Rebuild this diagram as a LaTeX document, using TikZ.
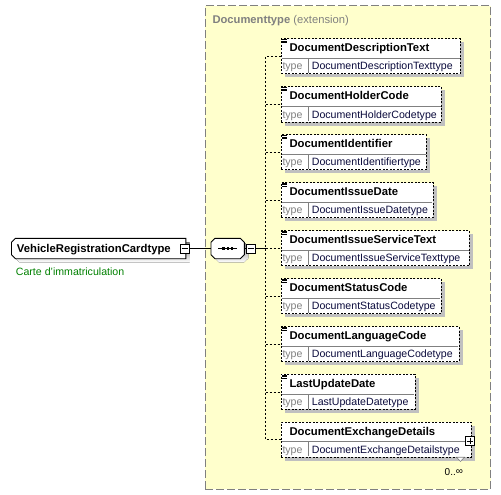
\documentclass[tikz,border=0pt]{standalone}
\usepackage{fontspec}
\setmainfont{Liberation Sans}
\definecolor{panel}{RGB}{255,255,204}
\definecolor{panelline}{RGB}{128,128,128}
\definecolor{shade}{RGB}{192,192,192}
\definecolor{typegray}{RGB}{128,128,128}
\definecolor{typeink}{RGB}{10,10,60}
\definecolor{annot}{RGB}{0,128,0}
\tikzset{
  x=1pt, y=-1pt,
  namefont/.style={font=\fontsize{11.3}{13}\selectfont\bfseries},
  typefont/.style={font=\fontsize{10.6}{12}\selectfont},
  lbl/.style={inner sep=0pt, anchor=base west},
  elbox/.style={draw, fill=white, line width=0.9pt, dash pattern=on 2pt off 1.5pt,
    minimum height=35pt, inner sep=0pt, anchor=north west},
  shadowbox/.style={fill=shade},
  rowline/.style={draw=gray, line width=0.8pt, solid},
  stub/.style={line width=0.9pt, dash pattern=on 2pt off 2pt},
  pmbox/.style={draw, fill=white, line width=0.8pt, solid, minimum width=9pt, minimum height=9pt, inner sep=0pt},
}
% #1 id, #2 top, #3 right, #4 name, #5 type, #6 icon (1/0)
\newcommand\xelem[6]{%
  \fill[shadowbox] (285,#2+4) rectangle (#3+4,#2+39);
  \node[elbox, minimum width={#3-281}] (#1) at (281,#2) {};
  \draw[rowline] (281.5,#2+20) -- (#3-0.5,#2+20);
  \draw[rowline] (308,#2+20) -- (308,#2+34.5);
  \node[lbl, namefont] (#1n) at (289.3,#2+13.3) {#4};
  \node[lbl, typefont, text=typegray] (#1k) at (282.3,#2+31.5) {type};
  \node[lbl, typefont, text=typeink] (#1t) at (311.7,#2+31.5) {#5};
  \ifnum#6=1
    \draw[line width=0.7pt] (282.3,#2+1) -- (287,#2+1) (282.3,#2+2.6) -- (287,#2+2.6) (282.3,#2+4.2) -- (287,#2+4.2);
  \fi
}
\begin{document}
\begin{tikzpicture}
\useasboundingbox (0,0) rectangle (501,495);
% extension panel
\node[draw=panelline, fill=panel, line width=1pt, dash pattern=on 8pt off 3pt,
  minimum width=285.5pt, minimum height=483pt, anchor=north west, inner sep=0pt] (panel) at (204.5,5.5) {};
\node[lbl, text=panelline, font=\fontsize{11.2}{13}\selectfont] (ptitle) at (212.3,23.3) {\textbf{Documenttype} (extension)};

% elements
\xelem{e1}{38.5}{460}{DocumentDescriptionText}{DocumentDescriptionTexttype}{1}
\xelem{e2}{86.5}{441}{DocumentHolderCode}{DocumentHolderCodetype}{1}
\xelem{e3}{134.4}{426}{DocumentIdentifier}{DocumentIdentifiertype}{1}
\xelem{e4}{182.2}{432.7}{DocumentIssueDate}{DocumentIssueDatetype}{1}
\xelem{e5}{230.1}{469}{DocumentIssueServiceText}{DocumentIssueServiceTexttype}{1}
\xelem{e6}{278.1}{440.7}{DocumentStatusCode}{DocumentStatusCodetype}{1}
\xelem{e7}{326.2}{458.5}{DocumentLanguageCode}{DocumentLanguageCodetype}{1}
\xelem{e8}{374}{414.5}{LastUpdateDate}{LastUpdateDatetype}{1}
\xelem{e9}{421.8}{471}{DocumentExchangeDetails}{DocumentExchangeDetailstype}{0}
% repetition notch and plus box of e9
\draw[draw=gray, fill=white, line width=0.6pt] (456.5,457.2) -- (464.5,457.2) -- (460.5,461.5) -- cycle;
\node[pmbox] (e9plus) at (470,441) {};
\draw[line width=0.8pt] (e9plus.west) ++(1.5,0) -- ++(6,0) (e9plus.north) ++(0,1.5) -- ++(0,6);
\node[lbl, typefont, font=\fontsize{10}{12}\selectfont] (e9occ) at (444.5,475) {0..\raisebox{0.3pt}{∞}};

% root element
\fill[shade] (19.5,242.3) -- (189.5,242.3) -- (189.5,262.3) -- (19.5,262.3) -- (15.5,258.3) -- (15.5,246.3) -- cycle;
\node[minimum width=174pt, minimum height=20pt, inner sep=0pt, anchor=north west] (root) at (11.5,238.3) {};
\draw[line width=0.9pt, fill=white] ([xshift=4pt]root.north west) -- (root.north east) -- (root.south east)
  -- ([xshift=4pt]root.south west) -- ([yshift=4pt]root.south west) -- ([yshift=-4pt]root.north west) -- cycle;
\node[lbl, namefont] (rootn) at (16.7,252.4) {VehicleRegistrationCardtype};
\node[pmbox] (rootminus) at (185,248.5) {};
\draw[line width=0.8pt] (rootminus.west) ++(1.5,0) -- ++(6,0);
\node[lbl, typefont, text=annot] (rootdoc) at (15.7,275.5) {Carte d'immatriculation};

% sequence compositor
\fill[shade] (219,242.3) -- (244,242.3) -- (248.3,246.3) -- (248.3,258.3) -- (244,262.3) -- (219,262.3) -- (215,258.3) -- (215,246.3) -- cycle;
\node[minimum width=33pt, minimum height=20pt, inner sep=0pt, anchor=north west] (seq) at (211,238.3) {};
\draw[line width=0.9pt, fill=white] ([xshift=4pt]seq.north west) -- ([xshift=-4pt]seq.north east) -- ([yshift=-4pt]seq.north east)
  -- ([yshift=4pt]seq.south east) -- ([xshift=-4pt]seq.south east) -- ([xshift=4pt]seq.south west)
  -- ([yshift=4pt]seq.south west) -- ([yshift=-4pt]seq.north west) -- cycle;
\draw[line width=0.7pt] ([xshift=7pt]seq.west) -- ([xshift=-7pt]seq.east);
\foreach \dx in {-4.2,0,4.2} \fill ([xshift=\dx pt]seq.center) ++(-1.2,-1.2) rectangle ++(2.4,2.4);
\node[pmbox] (seqminus) at (251,248.5) {};
\draw[line width=0.8pt] (seqminus.west) ++(1.5,0) -- ++(6,0);
\draw[line width=0.8pt] (rootminus.east) -- (seq.west);
\draw[line width=0.8pt] (seq.east) -- (seqminus.west);

% connectors
\coordinate (bus) at (265.5,248.5);
\draw[line width=0.8pt] (seqminus.east) -- (bus);
\draw[stub] (e1.west) -| (bus |- e9.west) -- (e9.west);
\foreach \e in {e2,e3,e4,e5,e6,e7,e8} \draw[stub] (bus |- \e.west) -- (\e.west);
\end{tikzpicture}
\end{document}
